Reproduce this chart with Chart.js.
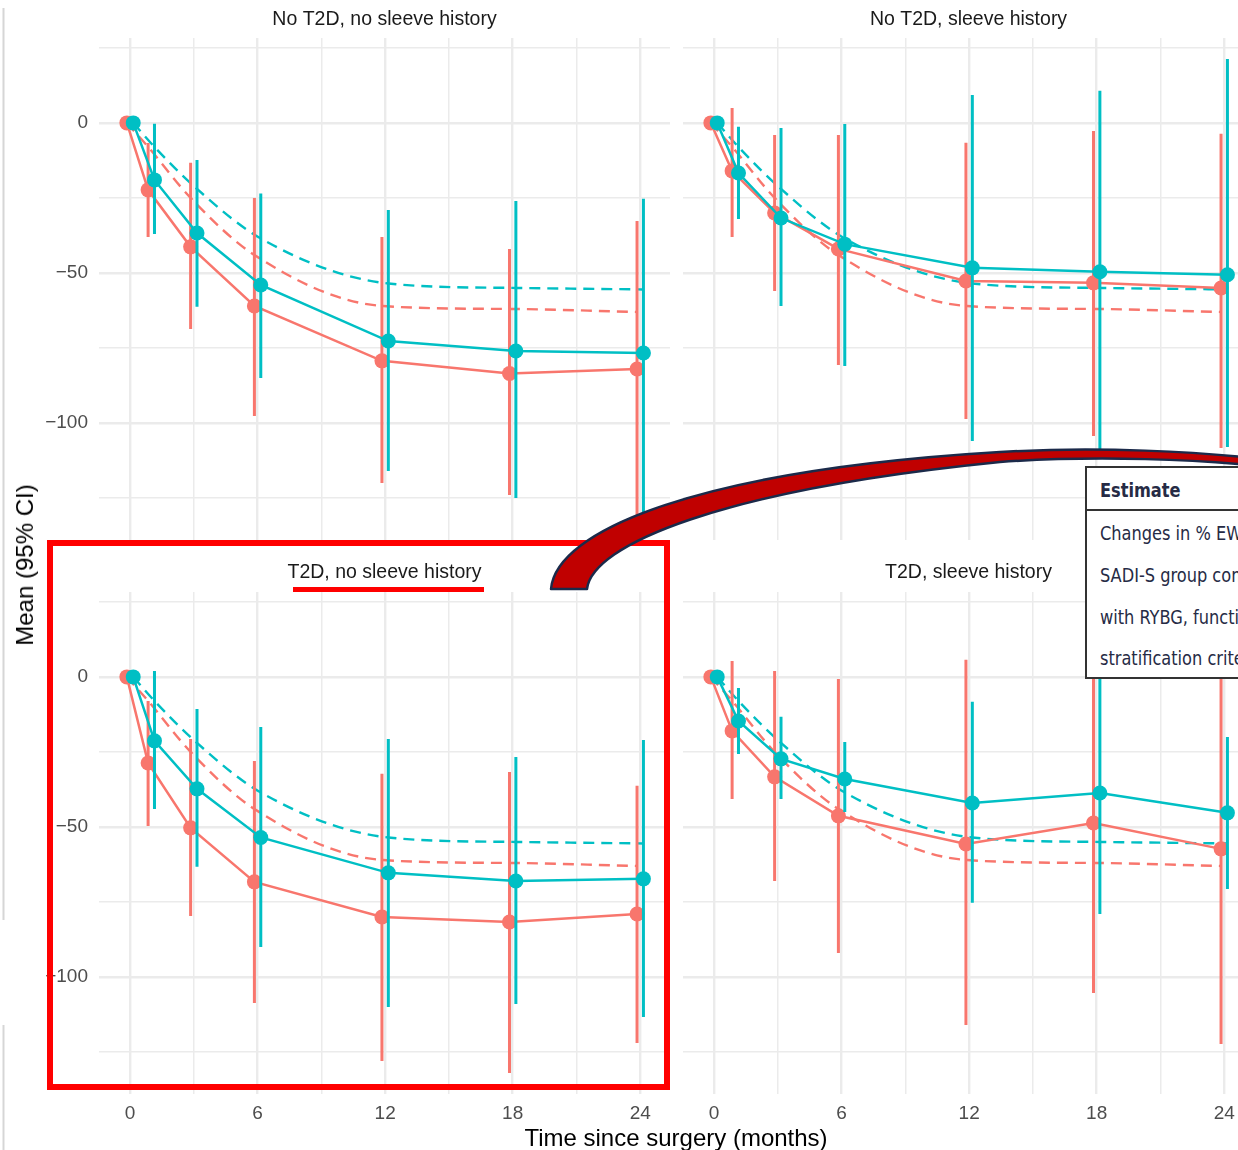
<!DOCTYPE html>
<html>
<head>
<meta charset="utf-8">
<title>Mean (95% CI) over time since surgery</title>
<script src="https://cdn.jsdelivr.net/npm/chart.js@4.4.0/dist/chart.umd.min.js"></script>
<style>
  html, body { margin: 0; padding: 0; background: #fff; overflow: hidden; }
  body { width: 1238px; height: 1150px; position: relative; font-family: "Liberation Sans", Arial, sans-serif; }
  canvas { position: absolute; z-index: 1; }
  #c1 { left: 0; top: 0; }
  #c2 { left: 673px; top: 0; }
  #c3 { left: 0; top: 552px; }
  #c4 { left: 673px; top: 552px; }
  .axis-title { position: absolute; z-index: 2; font-size: 24px; line-height: 1; color: #000; white-space: nowrap; }
  #ylab { left: 25px; top: 565px; transform: translate(-50%, -50%) rotate(-90deg); }
  #xlab { left: 676px; top: 1138px; transform: translate(-50%, -50%); }
  #estimate { position: absolute; z-index: 3; left: 1085px; top: 466px; width: 220px; height: 213px;
    box-sizing: border-box; border: 2px solid #333; background: #fff;
    font-family: "Liberation Sans Narrow", "DejaVu Sans Condensed", "Liberation Sans", sans-serif;
    font-size: 20px; color: #262b45; }
  #estimate .hd { position: absolute; left: 0; top: 0; width: 100%; height: 41px; border-bottom: 2px solid #333; }
  #estimate span { position: absolute; left: 13px; height: 30px; line-height: 30px; white-space: nowrap;
    transform: scaleX(0.9); transform-origin: left center; }
  #annot { position: absolute; left: 0; top: 0; z-index: 4; pointer-events: none; }
</style>
</head>
<body>
<canvas id="c1" width="680" height="575"></canvas>
<canvas id="c2" width="590" height="575"></canvas>
<canvas id="c3" width="680" height="598"></canvas>
<canvas id="c4" width="590" height="598"></canvas>

<div class="axis-title" id="ylab">Mean (95% CI)</div>
<div class="axis-title" id="xlab">Time since surgery (months)</div>

<div id="estimate">
  <div class="hd"></div>
  <span style="top:7px;font-weight:bold">Estimate</span>
  <span style="top:50px">Changes in % EWL in the</span>
  <span style="top:92px">SADI-S group compared</span>
  <span style="top:134px">with RYBG, function of</span>
  <span style="top:175px">stratification criteria</span>
</div>

<svg id="annot" width="1238" height="1150" viewBox="0 0 1238 1150">
  <line x1="3.5" y1="8" x2="3.5" y2="920" stroke="#d6d6d6" stroke-width="2"/>
  <line x1="3.5" y1="1025" x2="3.5" y2="1150" stroke="#d6d6d6" stroke-width="2"/>
  <rect x="50" y="543" width="617" height="544" fill="none" stroke="#ff0000" stroke-width="6"/>
  <line x1="293" y1="589.5" x2="484" y2="589.5" stroke="#ff0000" stroke-width="5"/>
  <path d="M551,589 C556,530 700,470 1000,452 C1100,446 1200,452 1262,459 L1262,466 C1200,460 1100,455 1000,462 C720,490 592,545 587,589 Z"
        fill="#c00000" stroke="#1b2a4a" stroke-width="2.5" stroke-linejoin="round"/>
</svg>

<script>
//DATA
const months = [0, 1, 3, 6, 12, 18, 24];
const xTicks = [0, 3, 6, 9, 12, 15, 18, 21, 24];
const yTicks = [25, 0, -25, -50, -75, -100, -125];

// dashed reference curves, same in every panel
const refRed = [0, -8, -25, -44, -61, -62, -63];
const refTeal = [0, -8, -22, -38.5, -53.5, -55, -55.5];

// No T2D, no sleeve history
const p1RedMean = [0, -22.3, -41.3, -61, -79.3, -83.5, -82];
const p1RedLo = [0, -38, -68.7, -97.7, -120, -124, -140];
const p1RedHi = [0, -6.7, -13.3, -25, -38, -42, -32.7];
const p1TealMean = [0, -19, -36.7, -54, -72.7, -76, -76.7];
const p1TealLo = [0, -37, -61.3, -85, -116, -125, -135];
const p1TealHi = [0, -0.3, -12.4, -23.5, -29, -26, -25.3];

// No T2D, sleeve history
const p2RedMean = [0, -16, -30, -42, -52.7, -53.3, -55];
const p2RedLo = [0, -38, -56, -80.7, -98.7, -104.3, -108.3];
const p2RedHi = [0, 5, -4, -4, -6.6, -2.7, -3.6];
const p2TealMean = [0, -16.7, -31.7, -40.4, -48.3, -49.6, -50.6];
const p2TealLo = [0, -32, -61, -81, -106, -110, -108];
const p2TealHi = [0, -1.3, -1.7, -0.4, 9.3, 10.7, 21.3];

// T2D, no sleeve history
const p3RedMean = [0, -28.7, -50.3, -68.3, -80, -81.7, -79];
const p3RedLo = [0, -49.7, -79.7, -108.7, -128, -132, -122];
const p3RedHi = [0, -8, -20.7, -28, -32.3, -31.7, -36.3];
const p3TealMean = [0, -21.3, -37.3, -53.5, -65.3, -68, -67.3];
const p3TealLo = [0, -44, -63.3, -90, -110, -109, -113.3];
const p3TealHi = [0, 2, -10.7, -16.7, -20.7, -26.7, -21];

// T2D, sleeve history
const p4RedMean = [0, -18, -33.3, -46.3, -55.7, -48.7, -57.3];
const p4RedLo = [0, -40.7, -68, -92, -116, -105.3, -122.3];
const p4RedHi = [0, 5.3, 2, -0.7, 5.7, 8, 8];
const p4TealMean = [0, -14.7, -27.3, -34, -42, -38.7, -45.3];
const p4TealLo = [0, -25.7, -40.7, -45, -75.3, -79, -70.7];
const p4TealHi = [0, -3.7, -13.3, -21.7, -8.3, 2, -20];

const RED = "#F8766D";
const TEAL = "#00BFC4";
const GRID = "#ebebeb";
const FONT = '"Liberation Sans", Arial, sans-serif';
const DODGE = 0.15;

//HELPERS
function pts(xs, ys, d) {
  return xs.map((x, i) => ({ x: x + d, y: ys[i] }));
}

// vertical segments for the CIs, null breaks the line between them
function bars(xs, lo, hi, d) {
  let out = [];
  for (let i = 0; i < xs.length; i++) {
    if (lo[i] == hi[i]) continue;
    out.push({ x: xs[i] + d, y: lo[i] }, { x: xs[i] + d, y: hi[i] }, { x: xs[i] + d, y: null });
  }
  return out;
}

function minus(v) {
  return String(v).replace("-", "\u2212");
}

function makePanel(id, title, s, o) {
  let datasets = [
    { data: pts(months, refRed, -DODGE), borderColor: RED, borderWidth: 2.4, borderDash: [11, 7],
      pointRadius: 0, cubicInterpolationMode: "monotone", order: 10 },
    { data: pts(months, refTeal, DODGE), borderColor: TEAL, borderWidth: 2.4, borderDash: [11, 7],
      pointRadius: 0, cubicInterpolationMode: "monotone", order: 9 },
    { data: bars(months, s.redLo, s.redHi, -DODGE), borderColor: RED, borderWidth: 3,
      pointRadius: 0, spanGaps: false, order: 8 },
    { data: pts(months, s.redMean, -DODGE), borderColor: RED, borderWidth: 2.5, pointRadius: 7.5,
      pointBackgroundColor: RED, pointBorderWidth: 0, pointHoverRadius: 7.5, order: 7 },
    { data: bars(months, s.tealLo, s.tealHi, DODGE), borderColor: TEAL, borderWidth: 3,
      pointRadius: 0, spanGaps: false, order: 6 },
    { data: pts(months, s.tealMean, DODGE), borderColor: TEAL, borderWidth: 2.5, pointRadius: 7.5,
      pointBackgroundColor: TEAL, pointBorderWidth: 0, pointHoverRadius: 7.5, order: 5 },
  ];

  return new Chart(document.getElementById(id), {
    type: "line",
    data: { datasets: datasets },
    options: {
      responsive: false,
      animation: false,
      devicePixelRatio: 1,
      events: [],
      layout: { padding: { left: 0, right: o.padRight, top: 0, bottom: 0 } },
      plugins: {
        legend: { display: false },
        tooltip: { enabled: false },
        title: {
          display: true,
          text: title,
          fullSize: false,
          color: "#1a1a1a",
          font: { family: FONT, size: 19.5, weight: "normal" },
          padding: { top: o.titleTop, bottom: o.titleBottom },
        },
      },
      scales: {
        x: {
          type: "linear",
          min: -1.46,
          max: 25.4,
          border: { display: false },
          grid: {
            color: GRID,
            drawTicks: false,
            lineWidth: (c) => (c.tick && c.tick.value % 6 === 0 ? 2.4 : 1.5),
          },
          ticks: {
            display: o.showX,
            padding: 8,
            color: "#4d4d4d",
            font: { family: FONT, size: 19 },
            maxRotation: 0,
            autoSkip: false,
            callback: (v) => (v % 6 === 0 ? String(v) : ""),
          },
          afterBuildTicks: (sc) => { sc.ticks = xTicks.map((v) => ({ value: v })); },
          afterFit: (sc) => { sc.height = o.xHeight; },
        },
        y: {
          type: "linear",
          min: -139,
          max: 28.3,
          border: { display: false },
          grid: {
            color: GRID,
            drawTicks: false,
            lineWidth: (c) => (c.tick && c.tick.value % 50 === 0 ? 2.4 : 1.5),
          },
          ticks: {
            display: o.showY,
            padding: 11,
            color: "#4d4d4d",
            font: { family: FONT, size: 19 },
            autoSkip: false,
            callback: (v) => (v % 50 === 0 ? minus(v) : ""),
          },
          afterBuildTicks: (sc) => { sc.ticks = yTicks.map((v) => ({ value: v })); },
          afterFit: (sc) => { sc.width = o.yWidth; },
        },
      },
    },
  });
}

//PANELS
makePanel("c1", "No T2D, no sleeve history",
  { redMean: p1RedMean, redLo: p1RedLo, redHi: p1RedHi, tealMean: p1TealMean, tealLo: p1TealLo, tealHi: p1TealHi },
  { padRight: 10, yWidth: 99, xHeight: 35, showX: false, showY: true, titleTop: 8.4, titleBottom: 6.2 });

makePanel("c2", "No T2D, sleeve history",
  { redMean: p2RedMean, redLo: p2RedLo, redHi: p2RedHi, tealMean: p2TealMean, tealLo: p2TealLo, tealHi: p2TealHi },
  { padRight: 9, yWidth: 10, xHeight: 35, showX: false, showY: false, titleTop: 8.4, titleBottom: 6.2 });

makePanel("c3", "T2D, no sleeve history",
  { redMean: p3RedMean, redLo: p3RedLo, redHi: p3RedHi, tealMean: p3TealMean, tealLo: p3TealLo, tealHi: p3TealHi },
  { padRight: 10, yWidth: 99, xHeight: 56, showX: true, showY: true, titleTop: 9.4, titleBottom: 7.2 });

makePanel("c4", "T2D, sleeve history",
  { redMean: p4RedMean, redLo: p4RedLo, redHi: p4RedHi, tealMean: p4TealMean, tealLo: p4TealLo, tealHi: p4TealHi },
  { padRight: 9, yWidth: 10, xHeight: 56, showX: true, showY: false, titleTop: 9.4, titleBottom: 7.2 });
</script>
</body>
</html>
